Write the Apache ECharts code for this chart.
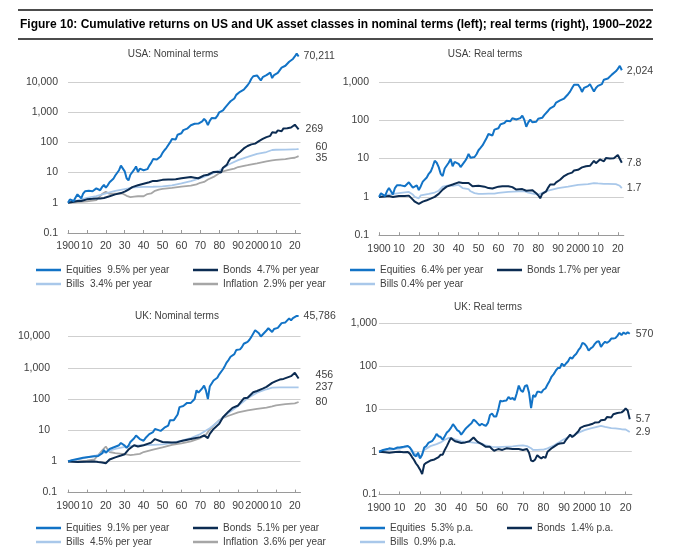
<!DOCTYPE html>
<html><head><meta charset="utf-8">
<script src="https://cdn.jsdelivr.net/npm/echarts@6/dist/echarts.min.js"></script>
<style>html,body{margin:0;padding:0;background:#fff}#c{width:680px;height:552px}</style>
</head><body><div id="c"></div>
<script>
// ---------------- DATA ----------------
const mainTitle = 'Figure 10: Cumulative returns on US and UK asset classes in nominal terms (left); real terms (right), 1900\u20132022';
const panelTitles = ['USA: Nominal terms', 'USA: Real terms', 'UK: Nominal terms', 'UK: Real terms'];
const xTicks = [1900,1910,1920,1930,1940,1950,1960,1970,1980,1990,2000,2010,2020];

// USA nominal
const usNomEquities = [[1900,1],[1901,1.3],[1902,1.4],[1903,1.15],[1904,1.5],[1905,1.9],[1906,2.0],[1907,1.4],[1908,2.0],[1909,2.4],[1910,2.3],[1911,2.5],[1912,2.7],[1913,2.4],[1914,2.3],[1915,3.0],[1916,3.3],[1917,2.6],[1918,3.3],[1919,3.9],[1920,3.2],[1921,3.8],[1922,4.8],[1923,4.9],[1924,6.2],[1925,8.0],[1926,9.0],[1927,12],[1928,17],[1929,15],[1930,11],[1931,6.5],[1932,5.5],[1933,8.5],[1934,8.5],[1935,12.5],[1936,16],[1937,10.5],[1938,13.5],[1939,13.5],[1940,12],[1941,11],[1942,13],[1943,17],[1944,21],[1945,28],[1946,26],[1947,27],[1948,29],[1949,34],[1950,45],[1951,55],[1952,65],[1953,65],[1954,100],[1955,130],[1956,140],[1957,125],[1958,180],[1959,200],[1960,200],[1961,255],[1962,230],[1963,285],[1964,330],[1965,370],[1966,335],[1967,415],[1968,460],[1969,420],[1970,440],[1971,500],[1972,600],[1973,510],[1974,375],[1975,515],[1976,640],[1977,590],[1978,630],[1979,750],[1980,990],[1981,940],[1982,1150],[1983,1400],[1984,1480],[1985,1950],[1986,2300],[1987,2450],[1988,2850],[1989,3750],[1990,3650],[1991,4750],[1992,5100],[1993,5600],[1994,5700],[1995,7800],[1996,9600],[1997,12800],[1998,15500],[1999,18000],[2000,16500],[2001,14500],[2002,11300],[2003,14500],[2004,16000],[2005,16800],[2006,19500],[2007,20500],[2008,13500],[2009,17000],[2010,19500],[2011,20000],[2012,23000],[2013,30000],[2014,34000],[2015,34500],[2016,39000],[2017,47000],[2018,45000],[2019,58000],[2020,70000],[2021,88000],[2022,70211]];
const usNomBonds = [[1900,1],[1903,1.08],[1905,1.15],[1907,1.15],[1910,1.3],[1913,1.35],[1915,1.4],[1917,1.4],[1919,1.45],[1920,1.5],[1922,1.65],[1925,1.9],[1928,2.1],[1930,2.35],[1931,2.3],[1932,2.75],[1934,3.3],[1935,3.6],[1937,3.8],[1938,4.1],[1940,4.3],[1941,4.5],[1943,4.8],[1945,5.3],[1947,5.3],[1950,5.75],[1953,5.9],[1955,5.9],[1957,6.0],[1958,5.9],[1960,6.5],[1962,6.8],[1965,7.1],[1967,6.8],[1969,6.5],[1970,7.3],[1972,8.1],[1974,8.5],[1975,9.0],[1977,10.5],[1979,10.6],[1980,11.2],[1981,10.1],[1982,14.5],[1983,15.5],[1984,18],[1985,24],[1986,30],[1987,29],[1988,32],[1989,38],[1990,40],[1991,48],[1992,52],[1993,63],[1994,58],[1995,76],[1996,75],[1997,86],[1998,98],[1999,91],[2000,105],[2001,110],[2002,127],[2003,130],[2004,140],[2005,150],[2006,152],[2007,165],[2008,215],[2009,195],[2010,207],[2011,250],[2012,258],[2013,235],[2014,290],[2015,290],[2016,294],[2017,315],[2018,310],[2019,355],[2020,385],[2021,365],[2022,269]];
const usNomBills = [[1900,1],[1905,1.2],[1910,1.45],[1915,1.65],[1920,2.05],[1925,2.5],[1930,2.85],[1935,3.25],[1940,3.35],[1945,3.4],[1950,3.5],[1955,3.8],[1960,4.4],[1965,5.2],[1970,6.5],[1975,8.5],[1980,11.5],[1985,18.5],[1990,26],[1995,33],[2000,42],[2005,48],[2008,56],[2010,57],[2015,57.5],[2019,59],[2021,59.5],[2022,60]];
const usNomInflation = [[1900,1],[1905,1.05],[1910,1.12],[1913,1.18],[1915,1.22],[1916,1.4],[1917,1.65],[1918,1.95],[1919,2.25],[1920,2.3],[1921,2.0],[1922,1.98],[1925,2.0],[1929,2.0],[1930,1.9],[1931,1.7],[1932,1.55],[1933,1.55],[1935,1.6],[1937,1.65],[1938,1.6],[1940,1.65],[1941,1.8],[1942,1.95],[1944,2.05],[1945,2.1],[1946,2.5],[1947,2.7],[1948,2.75],[1950,2.9],[1951,3.05],[1955,3.1],[1960,3.45],[1965,3.7],[1968,4.1],[1970,4.6],[1972,4.9],[1974,5.9],[1975,6.3],[1977,7.2],[1979,8.7],[1980,9.8],[1981,10.6],[1982,11],[1985,12.3],[1988,13.6],[1990,15.3],[1995,17.6],[2000,20.3],[2005,23.5],[2008,25.5],[2010,26.3],[2015,28],[2018,30],[2020,31],[2021,33],[2022,35]];

// USA real
const usRealEquities = [[1900,1],[1901,1.25],[1902,1.35],[1903,1.05],[1904,1.4],[1905,1.7],[1906,1.75],[1907,1.15],[1908,1.7],[1909,2.0],[1910,1.9],[1911,2.0],[1912,2.1],[1913,1.9],[1914,1.85],[1915,2.4],[1916,2.6],[1917,1.75],[1918,1.9],[1919,2.0],[1920,1.5],[1921,1.9],[1922,2.5],[1923,2.5],[1924,3.2],[1925,4.0],[1926,4.6],[1927,6.2],[1928,8.8],[1929,7.8],[1930,6.0],[1931,4.0],[1932,3.5],[1933,5.5],[1934,5.5],[1935,7.8],[1936,9.8],[1937,6.3],[1938,8.2],[1939,8.2],[1940,7.3],[1941,6.0],[1942,6.5],[1943,8.3],[1944,10],[1945,13.2],[1946,10.5],[1947,10.3],[1948,11],[1949,13],[1950,16.5],[1951,19],[1952,22],[1953,22],[1954,34],[1955,44],[1956,46],[1957,40],[1958,57],[1959,62],[1960,62],[1961,78],[1962,70],[1963,85],[1964,97],[1965,107],[1966,94],[1967,113],[1968,120],[1969,105],[1970,104],[1971,114],[1972,132],[1973,103],[1974,68],[1975,88],[1976,104],[1977,89],[1978,88],[1979,92],[1980,110],[1981,98],[1982,116],[1983,137],[1984,140],[1985,178],[1986,206],[1987,210],[1988,235],[1989,290],[1990,270],[1991,330],[1992,345],[1993,370],[1994,365],[1995,480],[1996,560],[1997,700],[1998,850],[1999,950],[2000,850],[2001,720],[2002,550],[2003,700],[2004,760],[2005,780],[2006,880],[2007,880],[2008,560],[2009,700],[2010,790],[2011,780],[2012,880],[2013,1150],[2014,1280],[2015,1230],[2016,1360],[2017,1560],[2018,1460],[2019,1900],[2020,2200],[2021,2650],[2022,2024]];
const usRealBonds = [[1900,1],[1903,1.02],[1905,1.05],[1907,1.0],[1910,1.06],[1913,1.05],[1915,1.08],[1916,1.0],[1917,0.85],[1918,0.75],[1919,0.72],[1920,0.66],[1921,0.62],[1922,0.75],[1924,0.82],[1926,0.9],[1928,1.0],[1930,1.2],[1931,1.3],[1932,1.55],[1933,1.6],[1934,1.85],[1935,2.0],[1937,2.1],[1938,2.3],[1940,2.4],[1941,2.5],[1942,2.3],[1943,2.3],[1945,2.3],[1946,2.1],[1947,1.9],[1948,1.95],[1950,1.95],[1951,1.8],[1953,1.85],[1955,1.7],[1957,1.65],[1958,1.7],[1960,1.85],[1962,1.9],[1965,1.9],[1967,1.8],[1969,1.55],[1970,1.55],[1972,1.6],[1974,1.45],[1975,1.45],[1977,1.5],[1978,1.35],[1979,1.25],[1980,1.1],[1981,0.92],[1982,1.2],[1983,1.25],[1984,1.4],[1985,1.75],[1986,2.1],[1987,2.0],[1988,2.1],[1989,2.4],[1990,2.5],[1991,2.8],[1992,3.0],[1993,3.5],[1994,3.2],[1995,4.0],[1996,3.9],[1997,4.3],[1998,4.9],[1999,4.4],[2000,5.1],[2001,5.2],[2002,5.9],[2003,6.0],[2004,6.3],[2005,6.6],[2006,6.5],[2007,6.8],[2008,8.7],[2009,7.6],[2010,8.0],[2011,9.5],[2012,9.6],[2013,8.5],[2014,10.3],[2015,10.1],[2016,10.0],[2017,10.5],[2018,10.2],[2019,11.3],[2020,12.4],[2021,11.3],[2022,7.8]];
const usRealBills = [[1900,1],[1905,1.15],[1910,1.25],[1915,1.35],[1916,1.3],[1917,1.15],[1918,1.0],[1919,0.95],[1920,0.92],[1921,1.1],[1923,1.15],[1925,1.2],[1928,1.3],[1930,1.45],[1932,1.85],[1933,1.95],[1935,2.0],[1937,1.95],[1938,2.05],[1940,2.05],[1941,1.9],[1942,1.7],[1943,1.65],[1945,1.6],[1946,1.4],[1947,1.3],[1948,1.25],[1950,1.2],[1952,1.2],[1955,1.22],[1958,1.22],[1960,1.27],[1965,1.35],[1970,1.4],[1973,1.42],[1975,1.3],[1978,1.2],[1980,1.15],[1981,1.2],[1983,1.33],[1985,1.45],[1990,1.7],[1995,1.85],[2000,2.05],[2005,2.15],[2008,2.3],[2010,2.25],[2013,2.2],[2015,2.2],[2019,2.15],[2020,2.1],[2021,1.95],[2022,1.7]];

// UK nominal
const ukNomEquities = [[1900,1],[1902,1.1],[1905,1.2],[1908,1.3],[1910,1.35],[1912,1.4],[1914,1.45],[1916,1.5],[1918,1.8],[1919,2.3],[1920,1.9],[1921,1.8],[1922,2.5],[1924,2.8],[1925,3.0],[1927,3.3],[1928,3.9],[1929,3.5],[1930,3.2],[1931,2.7],[1932,3.2],[1933,4.2],[1935,5.5],[1936,6.8],[1937,6.0],[1938,5.2],[1940,4.6],[1941,5.6],[1943,7.5],[1945,8.7],[1946,11],[1947,10.5],[1949,9.5],[1950,11],[1951,12],[1952,12],[1953,14],[1954,21],[1955,24],[1956,21],[1957,22],[1958,32],[1959,55],[1960,55],[1961,60],[1962,62],[1963,75],[1964,68],[1965,75],[1966,70],[1967,100],[1968,190],[1969,160],[1970,150],[1971,220],[1972,270],[1973,185],[1974,100],[1975,250],[1976,270],[1977,390],[1978,430],[1979,480],[1980,620],[1981,700],[1982,900],[1983,1150],[1984,1500],[1985,1800],[1986,2250],[1987,2450],[1988,2750],[1989,3700],[1990,3300],[1991,3900],[1992,4600],[1993,5900],[1994,5600],[1995,6800],[1996,7900],[1997,9800],[1998,11000],[1999,16000],[2000,15000],[2001,12800],[2002,10000],[2003,11700],[2004,12900],[2005,15700],[2006,18500],[2007,21000],[2008,14000],[2009,17500],[2010,20000],[2011,19000],[2012,22000],[2013,27000],[2014,27500],[2015,28500],[2016,33000],[2017,38500],[2018,33000],[2019,39000],[2020,37000],[2021,46000],[2022,45786]];
const ukNomBonds = [[1900,1],[1905,0.95],[1910,0.98],[1914,1.0],[1916,0.95],[1918,0.92],[1920,0.87],[1921,0.95],[1922,1.15],[1925,1.35],[1928,1.55],[1930,1.7],[1931,1.7],[1932,2.4],[1935,3.3],[1937,3.0],[1940,3.3],[1944,4.0],[1946,5.2],[1947,4.5],[1950,4.2],[1955,4.0],[1957,4.0],[1960,4.5],[1965,5.2],[1970,6.0],[1972,6.8],[1973,6.3],[1974,5.6],[1975,7.6],[1977,11],[1978,11],[1980,16],[1982,26],[1985,40],[1987,52],[1990,62],[1993,105],[1994,95],[1995,110],[1998,165],[2000,180],[2003,215],[2005,245],[2008,330],[2010,375],[2012,420],[2014,440],[2015,470],[2018,540],[2019,610],[2020,690],[2021,620],[2022,456]];
const ukNomBills = [[1900,1],[1905,1.15],[1910,1.35],[1915,1.55],[1920,2.0],[1925,2.5],[1930,2.9],[1935,3.2],[1940,3.3],[1945,3.4],[1950,3.5],[1955,3.9],[1960,4.6],[1965,5.6],[1970,7.5],[1975,11.5],[1980,20],[1985,36],[1990,60],[1995,105],[2000,160],[2005,205],[2008,232],[2012,236],[2022,237]];
const ukNomInflation = [[1900,1],[1905,1.0],[1910,1.05],[1914,1.15],[1916,1.6],[1918,2.2],[1920,3.0],[1921,2.4],[1922,2.0],[1925,1.85],[1930,1.7],[1933,1.6],[1935,1.65],[1938,1.75],[1940,2.0],[1945,2.4],[1950,2.8],[1955,3.4],[1960,3.8],[1965,4.4],[1970,5.6],[1973,7.2],[1975,10.5],[1977,14],[1980,21],[1982,25],[1985,29],[1990,37],[1995,43],[2000,48],[2005,53],[2008,58],[2010,62],[2015,68],[2020,72],[2021,75],[2022,80]];

// UK real
const ukRealEquities = [[1900,1],[1902,1.1],[1904,1.15],[1905,1.2],[1907,1.15],[1909,1.25],[1910,1.26],[1912,1.3],[1914,1.36],[1915,1.25],[1916,1.05],[1917,0.84],[1918,0.78],[1919,0.95],[1920,0.7],[1921,0.85],[1922,1.25],[1923,1.35],[1924,1.6],[1925,1.7],[1926,1.8],[1927,2.1],[1928,2.6],[1929,2.3],[1930,2.2],[1931,1.9],[1932,2.3],[1933,2.8],[1934,3.1],[1935,3.6],[1936,4.4],[1937,3.8],[1938,3.2],[1939,3.0],[1940,2.5],[1941,2.9],[1942,3.4],[1943,3.8],[1944,4.2],[1945,4.6],[1946,5.6],[1947,5.2],[1948,4.6],[1949,4.1],[1950,4.5],[1951,4.2],[1952,4.0],[1953,4.7],[1954,7.2],[1955,7.8],[1956,6.6],[1957,6.6],[1958,9.5],[1959,15.5],[1960,15],[1961,15.5],[1962,15.8],[1963,19],[1964,17],[1965,18],[1966,16],[1967,23],[1968,35],[1969,27],[1970,25],[1971,34],[1972,36],[1973,24],[1974,10.5],[1975,21],[1976,19],[1977,25],[1978,25],[1979,24],[1980,28],[1981,30],[1982,37],[1983,45],[1984,57],[1985,65],[1986,78],[1987,90],[1988,90],[1989,115],[1990,100],[1991,115],[1992,130],[1993,160],[1994,150],[1995,175],[1996,195],[1997,235],[1998,270],[1999,350],[2000,330],[2001,290],[2002,230],[2003,260],[2004,280],[2005,330],[2006,370],[2007,380],[2008,280],[2009,330],[2010,370],[2011,350],[2012,380],[2013,440],[2014,440],[2015,450],[2016,510],[2017,600],[2018,530],[2019,610],[2020,560],[2021,620],[2022,570]];
const ukRealBonds = [[1900,1],[1903,0.97],[1905,0.95],[1908,0.98],[1910,1.0],[1912,0.97],[1914,0.98],[1915,0.9],[1916,0.76],[1917,0.65],[1918,0.53],[1919,0.46],[1920,0.38],[1921,0.3],[1922,0.5],[1923,0.55],[1925,0.62],[1927,0.66],[1929,0.75],[1930,0.85],[1931,0.85],[1932,1.1],[1933,1.35],[1934,1.7],[1935,2.1],[1936,1.9],[1937,1.75],[1938,1.7],[1940,1.6],[1942,1.65],[1944,1.75],[1946,2.15],[1947,1.9],[1948,1.7],[1950,1.5],[1952,1.3],[1954,1.3],[1955,1.15],[1956,1.05],[1957,1.1],[1958,1.15],[1960,1.1],[1962,1.2],[1965,1.15],[1968,1.15],[1970,1.1],[1972,1.15],[1973,0.95],[1974,0.62],[1975,0.6],[1976,0.66],[1977,0.83],[1978,0.75],[1979,0.7],[1980,0.76],[1981,0.72],[1982,1.0],[1983,1.1],[1984,1.2],[1985,1.3],[1987,1.5],[1988,1.55],[1990,1.6],[1991,1.9],[1993,2.5],[1994,2.2],[1995,2.4],[1997,3.0],[1998,3.6],[2000,4.0],[2002,4.2],[2004,4.5],[2005,4.8],[2007,4.9],[2008,5.4],[2010,5.6],[2011,6.5],[2013,6.3],[2014,7.5],[2016,8.0],[2018,8.3],[2019,9.0],[2020,10.2],[2021,9.2],[2022,5.7]];
const ukRealBills = [[1900,1],[1905,1.1],[1910,1.18],[1913,1.3],[1914,1.35],[1915,1.25],[1916,1.1],[1917,0.95],[1918,0.85],[1919,0.78],[1920,0.7],[1921,0.9],[1922,1.1],[1925,1.35],[1928,1.5],[1930,1.65],[1932,1.9],[1934,2.1],[1935,2.1],[1937,1.95],[1940,1.75],[1943,1.7],[1945,1.65],[1947,1.6],[1950,1.55],[1952,1.4],[1955,1.3],[1958,1.28],[1960,1.3],[1965,1.33],[1968,1.38],[1970,1.4],[1972,1.35],[1974,1.2],[1975,1.1],[1977,1.1],[1979,1.12],[1980,1.12],[1982,1.2],[1985,1.4],[1988,1.7],[1990,1.95],[1993,2.3],[1995,2.45],[1998,2.9],[2000,3.2],[2003,3.5],[2005,3.7],[2008,4.0],[2010,3.8],[2013,3.55],[2015,3.5],[2018,3.35],[2020,3.3],[2021,3.1],[2022,2.9]];

// legend texts and end labels
const usNomNames = ['Equities  9.5% per year','Bonds  4.7% per year','Bills  3.4% per year','Inflation  2.9% per year'];
const usRealNames = ['Equities  6.4% per year','Bonds 1.7% per year','Bills 0.4% per year'];
const ukNomNames = ['Equities  9.1% per year','Bonds  5.1% per year','Bills  4.5% per year','Inflation  3.6% per year'];
const ukRealNames = ['Equities  5.3% p.a.','Bonds  1.4% p.a.','Bills  0.9% p.a.'];
const usNomEnd = ['70,211','269','60','35'];
const usRealEnd = ['2,024','7.8','1.7'];
const ukNomEnd = ['45,786','456','237','80'];
const ukRealEnd = ['570','5.7','2.9'];

// ---------------- STYLE / LAYOUT ----------------
const FONT = "'Liberation Sans', Arial, Helvetica, sans-serif";
const TXT = '#404040';
const COLORS = ['#1273c6', '#0c2c52', '#a9c8ea', '#a6a6a6']; // equities, bonds, bills, inflation

const panels = [
  { data:[usNomEquities,usNomBonds,usNomBills,usNomInflation], names:usNomNames, ends:usNomEnd,
    grid:{left:68, top:51.8, width:232.5, height:181.2}, ymax:100000, hideMax:true, lblMargin:10, bigPad:0,
    tpos:[173,54], offs:[[0,0],[2,0],[12,-2],[12,2]],
    leg:[[36,269],[193,269],[36,283],[193,283]] },
  { data:[usRealEquities,usRealBonds,usRealBills], names:usRealNames, ends:usRealEnd,
    grid:{left:379, top:43.7, width:244.8, height:191.5}, ymax:10000, hideMax:true, lblMargin:10, bigPad:0,
    tpos:[485,54], offs:[[0,1],[0,0],[0,0]],
    leg:[[350,269],[497,269],[350,283]] },
  { data:[ukNomEquities,ukNomBonds,ukNomBills,ukNomInflation], names:ukNomNames, ends:ukNomEnd,
    grid:{left:68, top:305.4, width:232.5, height:187.2}, ymax:100000, hideMax:true, lblMargin:11, bigPad:7,
    tpos:[177,316], offs:[[0,0],[12,-3],[12,0],[12,0]],
    leg:[[36,527],[193,527],[36,541],[193,541]] },
  { data:[ukRealEquities,ukRealBonds,ukRealBills], names:ukRealNames, ends:ukRealEnd,
    grid:{left:379, top:323.3, width:252.8, height:171.2}, ymax:1000, hideMax:false, lblMargin:2, bigPad:0,
    tpos:[488,307], offs:[[1,0],[1,0],[1,0]],
    leg:[[360,527],[507,527],[360,541]] }
];

function fmtNum(v){
  const r = v < 1 ? Math.round(v*10)/10 : Math.round(v);
  return String(r).replace(/\B(?=(\d{3})+(?!\d))/g, ',');
}
function makeFmtY(pad){
  return function(v){
    const s = fmtNum(v);
    return (pad && v >= 10) ? '{b|' + s + '}' : s;
  };
}
function fmtX(v){
  if (xTicks.indexOf(v) < 0) return '';
  if (v === 1900 || v === 2000) return String(v);
  return String(v % 100);
}

const grids = [], xAxes = [], yAxes = [], series = [], legends = [], graphics = [];
panels.forEach((p, i) => {
  grids.push(Object.assign({containLabel:false}, p.grid));
  xAxes.push({
    type:'value', gridIndex:i, min:1900, max:2023, interval:10,
    axisLine:{show:true, onZero:false, lineStyle:{color:'#9a9a9a', width:1}},
    axisTick:{show:true, inside:true, length:3, customValues:xTicks, lineStyle:{color:'#9a9a9a'}},
    axisLabel:{customValues:xTicks, formatter:fmtX, color:TXT, fontFamily:FONT, fontSize:10.5, margin:8},
    splitLine:{show:false}
  });
  yAxes.push({
    type:'log', logBase:10, gridIndex:i, min:0.1, max:p.ymax, splitNumber:10,
    axisLine:{show:false}, axisTick:{show:false},
    axisLabel:{formatter:makeFmtY(p.bigPad), color:TXT, fontFamily:FONT, fontSize:10.5, margin:p.lblMargin, showMaxLabel:!p.hideMax,
      rich:{b:{padding:[0,p.bigPad,0,0], color:TXT, fontFamily:FONT, fontSize:10.5}}},
    splitLine:{show:true, showMinLine:false, showMaxLine:!p.hideMax, lineStyle:{color:'#cfcfcf', width:1}}
  });
  for (let k = p.data.length - 1; k >= 0; k--) {
    series.push({
      type:'line', name:p.names[k], xAxisIndex:i, yAxisIndex:i, data:p.data[k],
      showSymbol:false, symbol:'none', color:COLORS[k], z:10 - k,
      lineStyle:{color:COLORS[k], width:k < 2 ? 2 : 1.8},
      emphasis:{disabled:true},
      endLabel:{show:true, formatter:p.ends[k], distance:5, offset:p.offs[k], color:TXT, fontFamily:FONT, fontSize:10.5}
    });
  }
  p.names.forEach((n, k) => {
    legends.push({
      data:[{name:n, icon:'rect'}], left:p.leg[k][0], top:p.leg[k][1] - 4, padding:0,
      itemWidth:25, itemHeight:2.5, selectedMode:false,
      textStyle:{color:TXT, fontFamily:FONT, fontSize:10}
    });
  });
  graphics.push({type:'text', x:p.tpos[0], y:p.tpos[1],
    style:{text:panelTitles[i], fill:TXT, font:'10px ' + FONT, textAlign:'center', textVerticalAlign:'middle'}});
});

graphics.push({type:'line', shape:{x1:18, y1:10, x2:653, y2:10}, style:{stroke:'#111', lineWidth:1.3}});
graphics.push({type:'line', shape:{x1:18, y1:39, x2:653, y2:39}, style:{stroke:'#111', lineWidth:1.3}});

const chart = echarts.init(document.getElementById('c'), null, {renderer:'canvas'});
chart.setOption({
  animation:false,
  backgroundColor:'#fff',
  title:{text:mainTitle, left:20, top:19, padding:0,
    textStyle:{color:'#000', fontFamily:FONT, fontSize:12, fontWeight:'bold'}},
  grid:grids, xAxis:xAxes, yAxis:yAxes, series:series, legend:legends, graphic:graphics
});
</script></body></html>
